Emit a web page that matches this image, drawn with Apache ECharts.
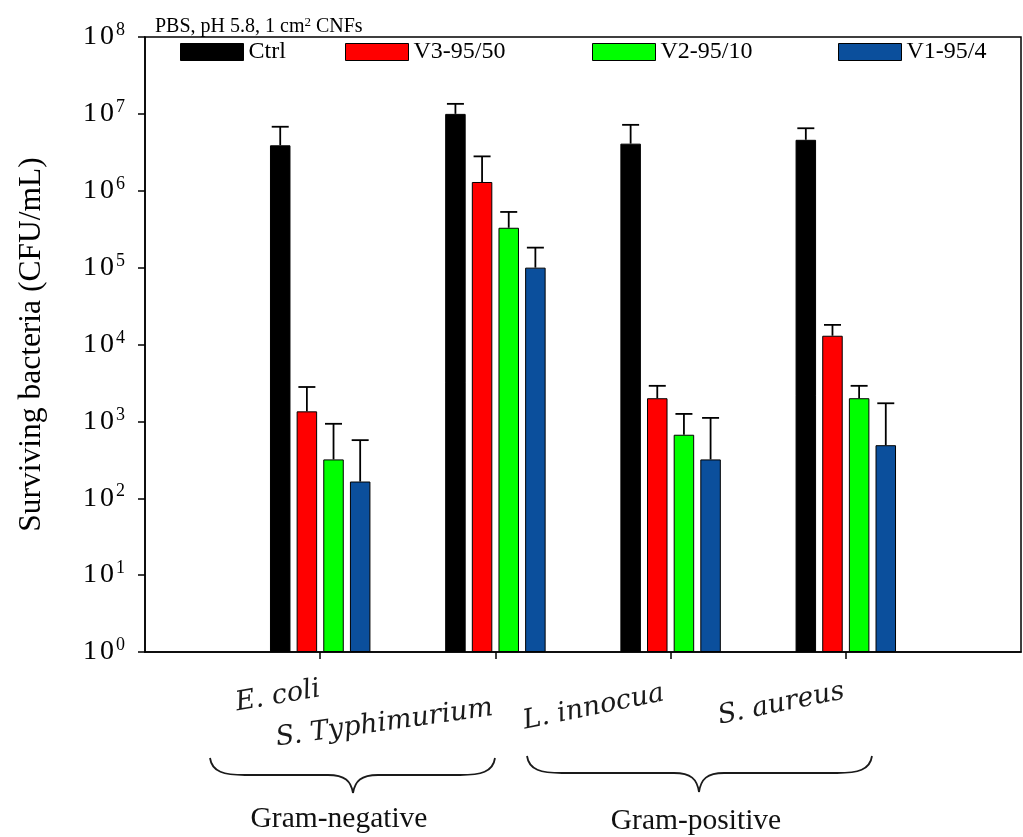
<!DOCTYPE html>
<html>
<head>
<meta charset="utf-8">
<script src="https://cdn.jsdelivr.net/npm/echarts@6/dist/echarts.min.js"></script>
<style>
  html, body { margin: 0; padding: 0; background: #fff; }
  #chart { width: 1023px; height: 837px; }
</style>
</head>
<body>
<div id="chart"></div>
<script>
// ---- data ----
const categories = ['E. coli', 'S. Typhimurium', 'L. innocua', 'S. aureus'];
const seriesNames = ['Ctrl', 'V3-95/50', 'V2-95/10', 'V1-95/4'];
const ctrl = [3.9e6, 1.0e7, 4.1e6, 4.6e6];
const v3 = [1.35e3, 1.3e6, 2.0e3, 1.3e4];
const v2 = [320, 3.3e5, 670, 2.0e3];
const v1 = [165, 1.0e5, 320, 490];
const ctrlErr = [2.9e6, 3.5e6, 3.1e6, 1.9e6];
const v3Err = [1.45e3, 1.5e6, 900, 5.0e3];
const v2Err = [610, 2.0e5, 580, 900];
const v1Err = [405, 8.2e4, 790, 1.23e3];
const groupLabels = ['Gram-negative', 'Gram-positive'];
const titleText = 'PBS, pH 5.8, 1 cm{sup|2} CNFs';
const yTitle = 'Surviving bacteria (CFU/mL)';

const colors = ['#000000', '#ff0000', '#00ff00', '#0b4f9c'];
const means = [ctrl, v3, v2, v1];
const errs = [ctrlErr, v3Err, v2Err, v1Err];

const BAR_W = 20.5, BAR_GAP = 0.3;
const STEP = BAR_W * (1 + BAR_GAP);

const xCats = [''].concat(categories, ['']);
const pad = arr => ['-'].concat(arr, ['-']);

const serif = 'Liberation Serif, Times New Roman, serif';

const series = [];
means.forEach((m, i) => {
  series.push({
    name: seriesNames[i],
    type: 'bar',
    data: pad(m),
    barWidth: BAR_W,
    barGap: (BAR_GAP * 100) + '%',
    itemStyle: { color: colors[i], borderColor: '#000', borderWidth: 1 },
    emphasis: { disabled: true },
    z: 2
  });
});
means.forEach((m, i) => {
  const off = (i - 1.5) * STEP;
  series.push({
    name: seriesNames[i] + ' err',
    type: 'custom',
    data: m.map((v, j) => [j + 1, v, v + errs[i][j]]),
    encode: { x: 0, y: [1, 2] },
    z: 3,
    silent: true,
    renderItem: function (params, api) {
      const c = api.value(0);
      const base = api.coord([c, api.value(1)]);
      const top = api.coord([c, api.value(2)]);
      const x = base[0] + off;
      const st = { stroke: '#000', lineWidth: 1.8 };
      return {
        type: 'group',
        children: [
          { type: 'line', shape: { x1: x, y1: base[1], x2: x, y2: top[1] }, style: st },
          { type: 'line', shape: { x1: x - 8.5, y1: top[1], x2: x + 8.5, y2: top[1] }, style: st }
        ]
      };
    }
  });
});

const legendLefts = [175, 340, 587, 833];
const legends = seriesNames.map((n, i) => ({
  data: [n],
  left: legendLefts[i],
  top: 35,
  itemWidth: 63,
  itemHeight: 17,
  itemGap: 8,
  icon: 'rect',
  selectedMode: false,
  itemStyle: { borderColor: '#000', borderWidth: 1 },
  textStyle: { fontFamily: serif, fontSize: 24, color: '#000' }
}));

const braceStyle = { fill: 'none', stroke: '#1a1a1a', lineWidth: 1.8 };
function brace(x1, xc, x2, yTop, yLine, yTip) {
  const bz = (a, b, c, d, e, f, g, h) => ({ type: 'bezierCurve', shape: { x1: a, y1: b, cpx1: c, cpy1: d, cpx2: e, cpy2: f, x2: g, y2: h }, style: braceStyle });
  const ln = (a, b, c, d) => ({ type: 'line', shape: { x1: a, y1: b, x2: c, y2: d }, style: braceStyle });
  return {
    type: 'group',
    children: [
      bz(x1, yTop, x1 + 2, yLine - 3, x1 + 14, yLine, x1 + 35, yLine),
      ln(x1 + 35, yLine, xc - 25, yLine),
      bz(xc - 25, yLine, xc - 8, yLine, xc - 2, yLine + 6, xc, yTip),
      bz(xc, yTip, xc + 2, yLine + 6, xc + 8, yLine, xc + 25, yLine),
      ln(xc + 25, yLine, x2 - 35, yLine),
      bz(x2 - 35, yLine, x2 - 14, yLine, x2 - 2, yLine - 3, x2, yTop)
    ]
  };
}

const italic = { fontFamily: 'DejaVu Serif', fontStyle: 'italic', fontSize: 27, fill: '#1a1a1a' };
const labelPos = [
  { x: 238, y: 717, r: 0.17 },
  { x: 278, y: 752, r: 0.14 },
  { x: 526, y: 735, r: 0.2 },
  { x: 721, y: 730, r: 0.2 }
];

const graphics = categories.map((c, i) => ({
  type: 'text',
  x: labelPos[i].x, y: labelPos[i].y, rotation: labelPos[i].r,
  style: Object.assign({ text: c, textAlign: 'left', textVerticalAlign: 'bottom' }, italic)
}));
graphics.push(
  brace(210, 353, 495, 758, 775, 793),
  brace(527, 699, 872, 756, 773, 792),
  { type: 'text', x: 339, y: 819, style: { text: groupLabels[0], fontFamily: serif, fontSize: 29.5, fill: '#111', textAlign: 'center', textVerticalAlign: 'middle' } },
  { type: 'text', x: 696, y: 821, style: { text: groupLabels[1], fontFamily: serif, fontSize: 29.5, fill: '#111', textAlign: 'center', textVerticalAlign: 'middle' } }
);

const chart = echarts.init(document.getElementById('chart'), null, { renderer: 'canvas' });
chart.setOption({
  backgroundColor: '#fff',
  animation: false,
  title: {
    text: titleText,
    left: 150, top: 11,
    textStyle: {
      fontFamily: serif, fontSize: 20, fontWeight: 'normal', color: '#000',
      rich: { sup: { fontFamily: serif, fontSize: 13, color: '#000', padding: [0, 0, 9, 0] } }
    }
  },
  legend: legends,
  grid: { left: 145, right: 2, top: 37, bottom: 185, show: true, borderColor: '#000', borderWidth: 1.5, backgroundColor: 'transparent' },
  xAxis: {
    type: 'category',
    data: xCats,
    boundaryGap: false,
    axisLine: { lineStyle: { color: '#000', width: 1.5 } },
    axisTick: { show: true, length: 7, inside: false, interval: (i) => i > 0 && i < xCats.length - 1, lineStyle: { color: '#000', width: 1.5 } },
    axisLabel: { show: false },
    splitLine: { show: false }
  },
  yAxis: {
    type: 'log',
    logBase: 10,
    min: 1,
    max: 1e8,
    interval: 1,
    splitNumber: 8,
    name: yTitle,
    nameLocation: 'middle',
    nameGap: 97,
    nameTextStyle: { fontFamily: serif, fontSize: 31.5, color: '#000' },
    axisLine: { show: true, lineStyle: { color: '#000', width: 1.5 } },
    axisTick: { show: true, length: 7, inside: false, lineStyle: { color: '#000', width: 1.5 } },
    minorTick: { show: false },
    splitLine: { show: false },
    axisLabel: {
      margin: 20,
      formatter: function (v) {
        const e = Math.round(Math.log10(v));
        return '{b|1}{z|0}{s|' + e + '}';
      },
      rich: {
        b: { fontFamily: serif, fontSize: 28, color: '#000' },
        z: { fontFamily: serif, fontSize: 28, color: '#000', padding: [0, 0, 0, 3] },
        s: { fontFamily: serif, fontSize: 18, color: '#000', padding: [0, 0, 13, 2] }
      }
    }
  },
  series: series,
  graphic: graphics
});
</script>
</body>
</html>
